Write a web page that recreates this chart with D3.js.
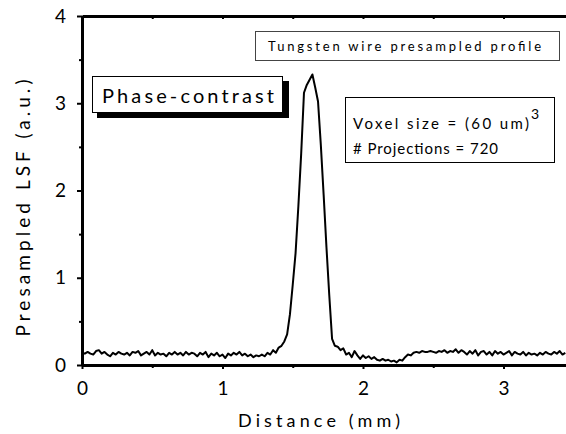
<!DOCTYPE html>
<html><head><meta charset="utf-8">
<script src="https://cdn.jsdelivr.net/npm/d3@7"></script>
<style>
html,body{margin:0;padding:0;background:#fff;}
svg{display:block;font-family:Lato,"Open Sans",sans-serif;}
</style></head>
<body>
<svg id="chart" width="566" height="434"></svg>
<script>
// ---- data ----
const distanceStep = 0.02; // mm between samples, starting at 0
const lsfValues = [
 0.14,0.13,0.15,0.13,0.12,0.16,0.17,0.13,0.15,0.12,
 0.10,0.14,0.12,0.15,0.13,0.12,0.14,0.11,0.15,0.14,
 0.16,0.11,0.13,0.15,0.12,0.17,0.11,0.14,0.12,0.13,
 0.10,0.14,0.12,0.15,0.12,0.14,0.11,0.15,0.12,0.14,
 0.13,0.10,0.14,0.12,0.15,0.09,0.13,0.11,0.14,0.10,
 0.12,0.08,0.13,0.11,0.14,0.12,0.15,0.11,0.13,0.10,
 0.12,0.09,0.11,0.10,0.12,0.10,0.14,0.12,0.17,0.14,
 0.20,0.22,0.27,0.35,0.58,0.92,1.28,1.82,2.42,3.12,
 3.21,3.27,3.33,3.18,3.02,2.52,1.95,1.35,0.80,0.30,
 0.22,0.21,0.17,0.19,0.12,0.14,0.09,0.16,0.11,0.07,
 0.11,0.08,0.10,0.07,0.09,0.06,0.05,0.07,0.05,0.06,
 0.04,0.05,0.03,0.06,0.05,0.09,0.12,0.11,0.14,0.15,
 0.14,0.16,0.15,0.15,0.16,0.15,0.14,0.16,0.15,0.17,
 0.14,0.16,0.15,0.18,0.14,0.17,0.15,0.12,0.16,0.13,
 0.17,0.11,0.15,0.16,0.12,0.15,0.11,0.16,0.13,0.15,
 0.12,0.14,0.16,0.11,0.15,0.13,0.12,0.15,0.11,0.14,
 0.12,0.13,0.11,0.14,0.12,0.15,0.13,0.12,0.15,0.13,
 0.16,0.12,0.14
];
const xMajorTicks = [0,1,2,3];
const xMinorTicks = [0.5,1.5,2.5];
const yMajorTicks = [0,1,2,3,4];
const yMinorTicks = [0.5,1.5,2.5,3.5];
const xLabel = "Distance (mm)";
const yLabel = "Presampled LSF (a.u.)";
const titleText = "Tungsten wire presampled profile";
const modeText = "Phase-contrast";
const infoLine1 = "Voxel size = (60 um)";
const infoSup = "3";
const infoLine2 = "# Projections = 720";

// ---- layout ----
const svg = d3.select("#chart");
const m = {left:82, top:16, right:0, bottom:69};
const W = 566 - m.left - m.right, H = 434 - m.top - m.bottom;
const x = d3.scaleLinear().domain([0, 3.445]).range([0, W]);
const y = d3.scaleLinear().domain([0, 4]).range([H, 0]);
const g = svg.append("g").attr("transform", `translate(${m.left},${m.top})`);

const pts = lsfValues.map((v,i)=>[i*distanceStep, v]);
g.append("path").datum(pts)
  .attr("fill","none").attr("stroke","#000").attr("stroke-width",2)
  .attr("stroke-linejoin","round")
  .attr("d", d3.line().x(d=>x(d[0])).y(d=>y(d[1])));

function styleAxis(sel){
  sel.select(".domain").attr("stroke","#000").attr("stroke-width",3);
  sel.selectAll(".tick line").attr("stroke","#000").attr("stroke-width",2);
  sel.selectAll(".tick text").attr("fill","#000")
     .style("font-family","Lato,'Open Sans',sans-serif").style("font-size","19px");
}
// bottom
const bx = g.append("g").attr("transform",`translate(0,${H})`)
  .call(d3.axisBottom(x).tickValues(xMajorTicks).tickSize(4).tickSizeOuter(0).tickPadding(13).tickFormat(d3.format("d")));
styleAxis(bx);
const bxm = g.append("g").attr("transform",`translate(0,${H})`)
  .call(d3.axisBottom(x).tickValues(xMinorTicks).tickSize(3).tickSizeOuter(0).tickFormat(""));
styleAxis(bxm);
// top (ticks inward)
const tx = g.append("g")
  .call(d3.axisBottom(x).tickValues(xMajorTicks.concat(xMinorTicks)).tickSize(3).tickSizeOuter(0).tickFormat(""));
styleAxis(tx);
// left
const ly = g.append("g")
  .call(d3.axisLeft(y).tickValues(yMajorTicks).tickSize(5).tickSizeOuter(0).tickPadding(11).tickFormat(d3.format("d")));
styleAxis(ly);
const lym = g.append("g")
  .call(d3.axisLeft(y).tickValues(yMinorTicks).tickSize(3).tickSizeOuter(0).tickFormat(""));
styleAxis(lym);

// axis labels
svg.append("text").attr("x", 319).attr("y", 427).attr("text-anchor","middle")
  .attr("textLength",162).attr("lengthAdjust","spacing")
  .style("font-size","18px").text(xLabel);
svg.append("text").attr("transform","translate(30,208) rotate(-90)").attr("text-anchor","middle")
  .attr("textLength",257).attr("lengthAdjust","spacing")
  .style("font-size","19px").text(yLabel);

// title box
svg.append("rect").attr("x",255.5).attr("y",31.5).attr("width",304).attr("height",29)
  .attr("fill","#fff").attr("stroke","#444").attr("stroke-width",1);
svg.append("text").attr("x",268).attr("y",51).attr("textLength",273).attr("lengthAdjust","spacing")
  .style("font-size","13px").text(titleText);

// phase-contrast box with shadow
svg.append("rect").attr("x",97).attr("y",81).attr("width",192).attr("height",37).attr("fill","#000");
svg.append("rect").attr("x",92.5).attr("y",76.5).attr("width",190).attr("height",36)
  .attr("fill","#fff").attr("stroke","#000").attr("stroke-width",1);
svg.append("text").attr("x",102).attr("y",103).attr("textLength",172).attr("lengthAdjust","spacing")
  .style("font-size","20px").text(modeText);

// info box
svg.append("rect").attr("x",345.5).attr("y",97.5).attr("width",209).attr("height",65)
  .attr("fill","#fff").attr("stroke","#000").attr("stroke-width",1);
svg.append("text").attr("x",353).attr("y",129).attr("textLength",176).attr("lengthAdjust","spacing")
  .style("font-size","15px").text(infoLine1);
svg.append("text").attr("x",531).attr("y",119).style("font-size","14px").text(infoSup);
svg.append("text").attr("x",353).attr("y",154).attr("textLength",145).attr("lengthAdjust","spacing")
  .style("font-size","15px").text(infoLine2);
</script>
</body></html>
